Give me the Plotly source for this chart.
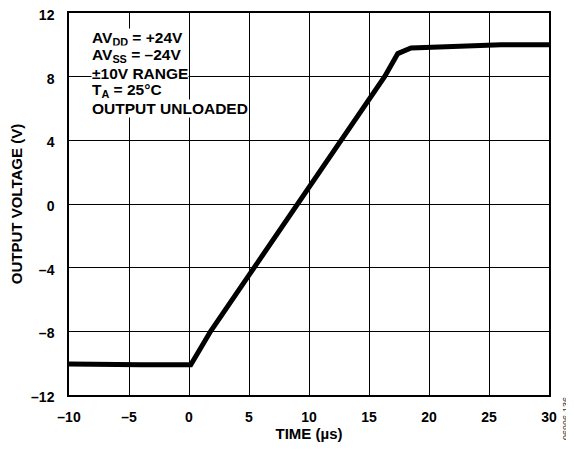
import plotly.graph_objects as go

# breakpoints of the output step response
time_us = [-10.0, -7.0, -4.0, -1.0, 0.15, 1.8, 9.1, 16.3, 17.4, 18.5, 22.0, 26.0, 30.0]
vout = [-10.05, -10.1, -10.1, -10.1, -10.1, -8.0, 0.0, 8.0, 9.45, 9.8, 9.9, 10.0, 10.0]

x_ticks = [-10, -5, 0, 5, 10, 15, 20, 25, 30]
y_ticks = [-12, -8, -4, 0, 4, 8, 12]

conditions = [
    "AV<sub>DD</sub> = +24V",
    "AV<sub>SS</sub> = \u201324V",
    "\u00b110V RANGE",
    "T<sub>A</sub> = 25\u00b0C",
    "OUTPUT UNLOADED",
]
condition_y = [10.4, 9.32, 8.2, 7.1, 5.98]

FONT = "Liberation Sans, Arial, sans-serif"


def fmt(v):
    return str(v).replace("-", "\u2013")


fig = go.Figure()
fig.add_trace(go.Scatter(
    x=time_us, y=vout,
    mode="lines",
    line=dict(color="black", width=5),
    hoverinfo="skip",
))

for txt, yy in zip(conditions, condition_y):
    fig.add_annotation(
        x=-8.15, y=yy, xref="x", yref="y",
        text=txt, showarrow=False,
        xanchor="left", yanchor="middle",
        bgcolor="white", borderpad=0,
        font=dict(family=FONT, size=15.5, color="black", weight="bold"),
    )

fig.add_annotation(
    x=1.0, y=0.0, xref="paper", yref="paper",
    xshift=17, yshift=-24, yanchor="middle", xanchor="center",
    text="06996-136", textangle=-90, showarrow=False,
    font=dict(family=FONT, size=9, color="#333333"),
)

axis_common = dict(
    showgrid=True, gridcolor="black", gridwidth=1,
    showline=True, linecolor="black", linewidth=1.5, mirror=True,
    zeroline=False, ticks="", automargin=False,
    ticklabeloverflow="allow",
    tickfont=dict(family=FONT, size=14, color="black", weight="bold"),
    title_font=dict(family=FONT, size=15, color="black", weight="bold"),
)

fig.update_xaxes(
    range=[-10, 30], tickvals=x_ticks, ticktext=[fmt(v) for v in x_ticks],
    ticklabelstandoff=8,
    title_text="TIME (\u00b5s)", title_standoff=5, **axis_common,
)
fig.update_yaxes(
    range=[-12, 12], tickvals=y_ticks, ticktext=[fmt(v) for v in y_ticks],
    ticklabelstandoff=10, ticklabelshift=2,
    title_text="OUTPUT VOLTAGE (V)", title_standoff=8, **axis_common,
)

# the page adds an 8px body margin, so the figure is sized and
# offset to land the plot area where the reference has it
fig.update_layout(
    width=566, height=445,
    margin=dict(l=61, r=25, t=5, b=58),
    plot_bgcolor="white", paper_bgcolor="white",
    showlegend=False,
)

fig.write_html("out.html")
